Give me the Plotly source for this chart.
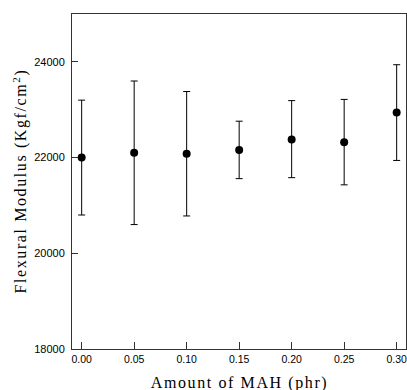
import plotly.graph_objects as go

mah = [0.00, 0.05, 0.10, 0.15, 0.20, 0.25, 0.30]
modulus = [22000, 22100, 22080, 22160, 22380, 22320, 22940]
err_upper = [23200, 23600, 23380, 22760, 23190, 23215, 23940]
err_lower = [20800, 20600, 20780, 21560, 21580, 21430, 21940]

x_ticks = [0.00, 0.05, 0.10, 0.15, 0.20, 0.25, 0.30]
x_ticklabels = ["0.00", "0.05", "0.10", "0.15", "0.20", "0.25", "0.30"]
y_ticks = [18000, 20000, 22000, 24000]
y_ticklabels = ["18000", "20000", "22000", "24000"]

x_title = "Amount of MAH (phr)"
y_title = "Flexural Modulus (Kgf/cm<sup>2</sup>)"

plus = [u - m for u, m in zip(err_upper, modulus)]
minus = [m - l for m, l in zip(modulus, err_lower)]

fig = go.Figure()
fig.add_trace(go.Scatter(
    x=mah, y=modulus, mode="markers",
    marker=dict(color="black", size=8),
    error_y=dict(type="data", symmetric=False, array=plus, arrayminus=minus,
                 color="black", thickness=1, width=3.5),
    cliponaxis=False,
    showlegend=False,
))

axis_common = dict(showgrid=False, zeroline=False, showline=True, linecolor="#333333",
                   linewidth=1, mirror=True, ticks="inside", tickcolor="#333333",
                   automargin=False)

fig.update_layout(
    width=407, height=390,
    margin=dict(l=72, r=1, t=14, b=41),
    plot_bgcolor="white", paper_bgcolor="white",
    xaxis=dict(range=[-0.0092, 0.3089], tickvals=x_ticks, ticktext=x_ticklabels,
               ticklen=7, ticklabeloverflow="allow",
               tickfont=dict(family="Liberation Sans", size=10.5, color="black"),
               **axis_common),
    yaxis=dict(range=[18000, 25000], tickvals=y_ticks, ticktext=y_ticklabels,
               ticklen=6, tickfont=dict(family="Liberation Sans", size=11, color="black"),
               ticklabelstandoff=4,
               **axis_common),
    annotations=[
        dict(text=x_title, xref="paper", yref="paper", x=0.5, y=-0.1,
             xanchor="center", yanchor="middle", showarrow=False,
             font=dict(family="Liberation Serif", size=16, color="black")),
        dict(text=y_title, xref="paper", yref="paper", x=-0.155, y=0.5,
             xanchor="center", yanchor="middle", showarrow=False, textangle=-90,
             font=dict(family="Liberation Serif", size=16, color="black")),
    ],
)

post = ("document.body.style.margin='0';"
        "document.body.style.overflow='hidden';"
        "var gd=document.getElementById('{plot_id}');"
        "gd.querySelectorAll('.annotation-text').forEach(function(t){t.style.letterSpacing='1.6px';});")

fig.write_html("out.html", post_script=post, config={"displayModeBar": False})
